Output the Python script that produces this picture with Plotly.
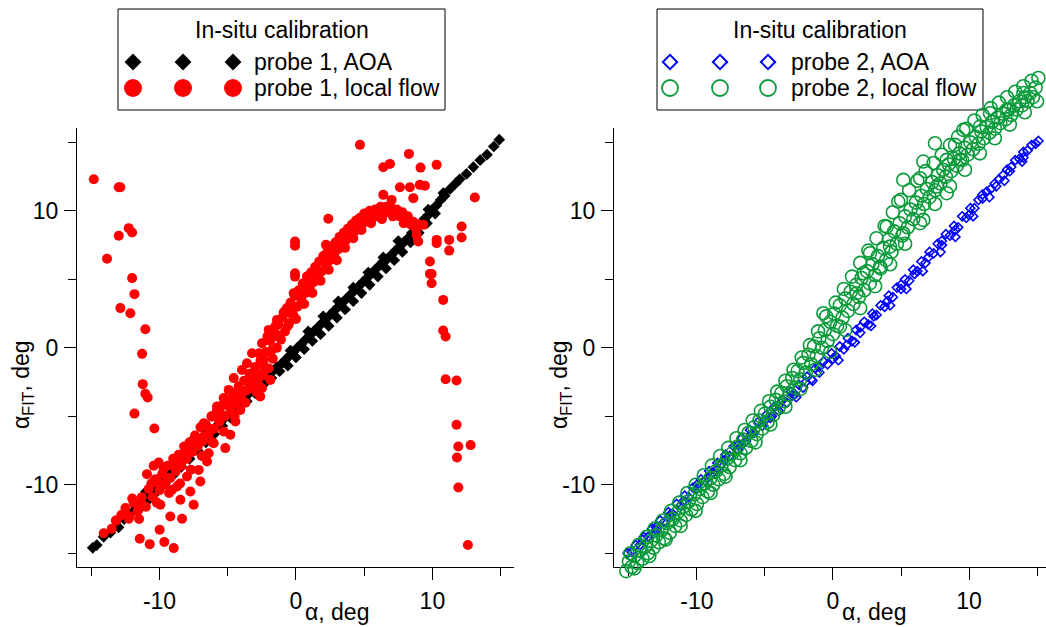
import plotly.graph_objects as go

W, H = 1046, 627
FONT = "Liberation Sans, Arial, sans-serif"
FS = 23

# ---------------- data (alpha, alpha_FIT) ----------------
probe1_aoa_x = [-14.9,-14.6,-14.1,-13.6,-13.0,-12.6,-12.0,-11.7,-11.3,-11.0,-10.7,-10.4,-10.1,-9.8,-9.5,
                -9.2,-8.9,-8.6,-8.3,-8.0,-7.7,-7.4,-7.1,-6.8,-6.5,-6.2,-5.9,-5.6,-5.3,-5.0,
                -4.7,-4.4,-4.1,-3.8,-3.5,-3.2,-2.9,-2.6,-2.3,-2.0,-1.7,-1.4,-1.1,-0.8,-0.5,
                -0.2,0.1,0.4,0.7,1.0,1.3,1.6,1.9,2.2,2.5,2.8,3.1,3.4,3.7,4.0,
                4.3,4.6,4.9,5.2,5.5,5.8,6.1,6.4,6.7,7.0,7.3,7.6,7.9,8.2,8.5,
                8.8,9.1,9.4,9.7,10.0,10.3,10.6,10.9,11.3,11.7,12.0,12.5,13.0,13.5,14.0,14.5,14.9]
probe1_aoa_y = [-14.6,-14.4,-13.8,-13.5,-13.1,-12.5,-12.0,-11.5,-11.2,-10.9,-10.6,-10.3,-10.0,-9.7,-9.4,
                -9.1,-8.8,-8.5,-8.2,-7.9,-7.6,-7.3,-7.0,-6.7,-6.4,-6.1,-5.8,-5.5,-5.2,-4.9,
                -4.6,-4.3,-4.0,-3.7,-3.4,-3.1,-2.8,-2.5,-2.2,-1.9,-1.7,-1.4,-1.2,-0.9,-0.6,
                -0.3,0.0,0.3,0.6,0.9,1.2,1.5,1.8,2.1,2.4,2.7,3.0,3.3,3.6,3.9,
                4.2,4.5,4.8,5.1,5.4,5.7,6.0,6.3,6.5,6.8,7.1,7.4,7.7,8.0,8.4,
                8.7,9.0,9.4,9.7,10.1,10.4,10.8,11.1,11.6,12.0,12.3,12.7,13.2,13.7,14.1,14.7,15.2]
probe1_aoa_extra = [
    (-12.3,-12.4),(-11.5,-11.8),(-10.9,-11.2),(-10.2,-10.5),(-9.6,-9.9),(-9.0,-9.3),(-8.4,-8.7),
    (-7.8,-8.1),(-7.2,-7.5),(-6.6,-6.9),(-6.0,-6.3),(-5.4,-5.7),(-4.8,-5.1),(-4.2,-4.5),(-3.6,-3.9),
    (-3.0,-3.3),(-2.4,-2.7),(-1.8,-2.2),(-1.2,-1.7),(-0.6,-1.3),(0.0,-0.7),(0.6,-0.1),(1.2,0.5),
    (1.8,1.0),(2.4,1.6),(3.0,2.2),(3.6,2.8),(4.2,3.4),(4.8,4.0),(5.4,4.6),(6.0,5.2),(6.6,5.8),
    (7.2,6.4),(7.8,7.0),(8.4,7.7),(9.0,8.4),(9.6,9.1),(10.2,9.8),
    (-11.0,-10.5),(-9.9,-9.4),(-8.8,-8.3),(-7.7,-7.2),(-6.6,-6.1),(-5.5,-5.0),(-4.4,-3.9),(-3.3,-2.8),
    (-0.4,-0.2),(0.9,1.2),(2.0,2.3),(3.1,3.4),(4.2,4.4),(5.3,5.5),(6.4,6.6),(7.5,7.8),(8.6,8.9),
    (9.7,10.1),(10.8,11.3),
]

probe1_flow_band = [
    (-13.5,-13.2),(-13.2,-12.6),(-12.8,-12.2),(-12.5,-11.7),(-12.2,-12.3),(-11.9,-11.3),(-11.6,-11.9),
    (-11.3,-10.9),(-11.0,-11.6),(-10.8,-10.3),(-10.5,-10.9),(-10.3,-9.6),(-10.0,-10.4),(-9.8,-9.2),
    (-9.6,-10.0),(-9.4,-8.6),(-9.2,-9.5),(-9.0,-8.1),(-8.8,-9.0),(-8.6,-7.8),(-8.4,-8.6),(-8.2,-7.2),
    (-8.0,-8.1),(-7.8,-6.9),(-7.6,-7.6),(-7.4,-6.4),(-7.2,-7.2),(-7.0,-5.8),(-6.8,-6.8),(-6.6,-5.6),
    (-6.4,-6.3),(-6.2,-5.0),(-6.0,-5.9),(-5.8,-4.6),(-5.6,-5.4),(-5.4,-4.2),(-5.2,-5.0),(-5.0,-3.8),
    (-4.8,-4.5),(-4.6,-3.3),(-4.4,-4.0),(-4.2,-2.8),(-4.0,-3.5),(-3.8,-2.4),(-3.6,-3.1),(-3.4,-1.9),
    (-3.2,-2.7),(-3.0,-1.4),(-2.8,-2.4),(-2.6,-0.9),(-2.4,-2.0),(-2.2,-0.3),(-2.0,-1.5),(-1.9,0.5),
    (-1.7,-0.8),(-1.6,1.1),(-1.4,0.0),(-1.3,1.7),(-1.1,0.6),(-1.0,2.2),(-0.8,1.2),(-0.7,2.8),
    (-0.5,1.8),(-0.4,3.3),(-0.2,2.4),(-0.1,3.8),(0.1,3.0),(0.2,4.2),(0.4,3.5),(0.5,4.7),(0.7,4.0),
    (0.8,5.2),(1.0,4.4),(1.1,5.5),(1.3,4.8),(1.4,5.9),(1.6,5.2),(1.7,6.3),(1.9,5.6),(2.0,6.7),
    (2.2,6.0),(2.3,7.0),(2.5,6.4),(2.6,7.4),(2.8,6.8),(2.9,7.7),(3.1,7.2),(3.2,8.1),(3.4,7.5),
    (3.5,8.4),(3.7,7.9),(3.8,8.7),(4.0,8.2),(4.1,9.0),(4.3,8.5),(4.4,9.3),(4.6,8.9),(4.7,9.5),
    (4.9,9.1),(5.0,9.8),(5.2,9.3),(5.4,10.0),(5.6,9.5),(5.8,10.1),(6.0,9.6),(6.2,10.3),(6.4,9.8),
    (6.6,10.3),(6.8,9.9),(7.0,10.2),(7.2,9.8),(7.4,10.1),(7.6,9.6),(7.8,9.9),(8.0,9.3),(8.2,9.6),
    (8.4,9.0),(8.6,9.2),(8.8,8.7),(9.0,9.0),
]
probe1_flow_band2 = [
    (-12.0,-11.0),(-11.5,-12.5),(-10.6,-9.9),(-10.2,-11.3),(-9.7,-8.8),(-9.3,-10.6),(-8.9,-8.5),
    (-8.5,-9.9),(-8.1,-7.6),(-7.7,-8.9),(-7.3,-6.8),(-6.9,-7.9),(-6.5,-5.8),(-6.1,-6.9),(-5.7,-5.2),
    (-5.3,-6.1),(-4.9,-4.1),(-4.5,-5.0),(-4.1,-3.2),(-3.7,-4.0),(-3.3,-2.3),(-2.9,-3.2),(-2.7,-0.4),
    (-2.3,-1.4),(-2.1,0.8),(-1.8,-0.2),(-1.5,1.6),(-1.2,0.9),(-0.9,2.6),(-0.6,1.6),(-0.3,3.0),
    (0.0,2.1),(0.3,3.9),(0.6,3.2),(0.9,4.8),(1.2,4.0),(1.5,5.6),(1.8,4.9),(2.1,6.3),(2.4,5.7),
    (2.7,7.1),(3.0,6.4),(3.3,7.8),(3.6,7.3),(3.9,8.5),(4.2,8.0),(4.5,9.1),(4.8,8.6),(5.1,9.6),
    (5.5,9.1),(5.9,9.8),(6.3,9.4),(6.7,10.0),(7.1,9.6),(7.5,9.7),(7.9,9.1),
]
probe1_flow_scatter_low = [
    (-14.09,-13.53),(-13.16,-12.60),(-12.26,-12.48),(-11.28,-11.46),(-11.45,-13.94),(-10.72,-14.33),
    (-9.99,-13.28),(-9.65,-14.18),(-8.96,-14.62),(-9.21,-12.31),(-8.35,-12.48),(-7.50,-11.46),
    (-9.94,-11.46),(-10.92,-9.22),(-10.43,-8.61),(-10.06,-8.37),(-10.06,-9.88),(-9.45,-9.51),
    (-9.08,-10.36),(-8.47,-11.09),(-7.74,-10.49),(-7.01,-9.76),(-8.72,-10.12),(-7.99,-9.39),
    (-8.47,-8.18),(-7.62,-7.57),(-7.13,-8.91),(-6.52,-8.30),(-6.40,-7.69),(-7.50,-6.72),(-6.76,-6.47),
    (-6.03,-6.96),(-5.18,-7.32),(-4.81,-6.35),(-6.76,-5.50),(-6.15,-5.01),(-5.54,-4.77),(-4.44,-5.38),
    (-5.79,-4.28),(-5.30,-3.67),(-4.93,-3.07),(-4.32,-3.67),(-4.08,-4.53),(-4.56,-2.21),(-3.96,-1.61),
    (-3.22,-0.39),(-3.59,-1.12),(-2.86,-1.85),(-2.62,-3.55),(-2.37,-0.88),(-2.49,0.34),(-2.00,1.31),
    (-1.39,2.04),(-0.66,2.90),(-0.42,2.53),(-1.63,0.83),(-1.88,-2.34),(-2.49,-2.94),
]
probe1_flow_scatter_left = [
    (-14.82,12.31),(-12.99,11.73),(-12.87,11.73),(-12.26,8.74),(-12.01,8.42),(-12.99,8.18),(-13.85,6.50),
    (-12.01,5.09),(-11.84,3.92),(-12.87,2.90),(-12.14,2.53),(-11.04,1.36),(-11.28,-0.44),(-11.23,-2.65),
    (-11.04,-3.36),(-10.87,-3.63),(-11.84,-4.80),(-10.38,-5.89),
]
probe1_flow_scatter_high = [
    (4.69,14.82),(6.40,13.19),(6.89,13.43),(8.28,14.16),(9.13,13.16),(10.31,13.36),(9.08,11.90),
    (9.45,11.83),(7.62,11.73),(8.35,11.73),(8.60,10.93),(6.40,11.17),(7.01,10.80),(13.11,10.98),
    (2.37,9.42),(-0.07,7.76),(-0.07,7.45),(2.20,7.52),(-0.07,5.45),(-0.07,5.20),(-0.17,3.99),
]
probe1_flow_scatter_right = [
    (12.14,8.86),(12.14,8.05),(11.23,7.88),(10.31,7.88),(10.31,7.64),(11.23,7.10),(8.96,7.76),
    (8.84,8.25),(9.33,8.98),(9.82,6.30),(9.82,5.40),(9.94,5.40),(9.94,4.72),(10.79,3.50),(10.79,1.26),
    (10.97,0.83),(10.97,-2.29),(11.77,-2.39),(11.77,-5.62),(11.9,-7.2),(11.8,-8.0),(11.9,-10.2),
    (12.8,-7.1),(12.6,-14.4),
]

probe2_aoa = [
    (-15.1,-15.0),(-14.8,-14.9),(-14.5,-14.4),(-14.2,-14.4),(-13.9,-13.8),(-13.6,-13.8),(-13.3,-13.2),
    (-13.0,-13.3),(-12.7,-12.6),(-12.4,-12.7),(-12.1,-12.0),(-11.8,-12.1),(-11.5,-11.4),(-11.2,-11.5),
    (-10.9,-10.8),(-10.6,-10.9),(-10.3,-10.2),(-10.0,-10.3),(-9.7,-9.6),(-9.4,-9.7),(-9.1,-9.0),
    (-8.8,-9.1),(-8.5,-8.4),(-8.2,-8.5),(-7.9,-7.8),(-7.6,-7.9),(-7.3,-7.2),(-7.0,-7.4),(-6.7,-6.6),
    (-6.4,-6.8),(-6.1,-6.0),(-5.8,-6.2),(-5.5,-5.4),(-5.2,-5.7),(-4.9,-4.9),(-4.6,-5.1),(-4.3,-4.3),
    (-4.0,-4.6),(-3.7,-3.8),(-3.4,-4.0),(-3.1,-3.2),(-2.8,-3.4),(-2.5,-2.7),(-2.2,-2.9),(-1.9,-2.1),
    (-1.6,-2.3),(-1.3,-1.5),(-1.0,-1.8),(-0.7,-1.0),(-0.4,-1.2),(-0.1,-0.4),(0.2,-0.6),(0.5,0.1),
    (0.8,-0.1),(1.1,0.7),(1.4,0.5),(1.7,1.3),(2.0,1.1),(2.3,1.9),(2.6,1.7),(2.9,2.5),(3.2,2.4),
    (3.5,3.1),(3.8,3.0),(4.1,3.8),(4.4,3.7),(4.7,4.4),(5.0,4.3),(5.3,5.0),(5.6,4.9),(5.9,5.7),
    (6.2,5.6),(6.5,6.3),(6.8,6.2),(7.1,7.0),(7.4,6.9),(7.7,7.6),(8.0,7.5),(8.3,8.3),(8.6,8.2),
    (8.9,8.9),(9.2,8.8),(9.5,9.6),(9.8,9.5),(10.1,10.2),(10.4,10.2),(10.7,10.8),(11.0,10.9),
    (11.3,11.4),(11.6,11.6),(11.9,12.0),(12.2,12.3),(12.5,12.6),(12.8,13.0),(13.1,13.2),(13.4,13.7),
    (13.7,13.8),(14.0,14.3),(14.3,14.4),(14.6,14.8),(14.9,14.9),(15.1,15.1),
]
probe2_aoa_extra = [
    (-14.0,-14.0),(-13.0,-13.1),(-12.0,-12.2),(-11.0,-11.2),(-10.0,-10.0),(-9.0,-9.3),(-8.0,-8.2),
    (-7.0,-7.1),(-6.0,-6.3),(-5.0,-5.3),(-4.0,-4.2),(-3.0,-3.5),(-2.0,-2.5),(-1.0,-1.4),(0.0,-0.8),
    (1.0,0.2),(2.0,1.5),(3.0,2.3),(4.0,3.4),(5.0,4.6),(6.0,5.4),(7.0,6.6),(8.0,7.8),(9.0,8.6),
    (10.0,9.7),(11.0,11.2),(12.0,11.8),(13.0,12.9),(14.0,13.9),
    (-8.5,-8.8),(-6.5,-6.9),(-4.5,-5.0),(-2.7,-3.6),(-1.5,-2.4),(0.4,-0.9),(1.6,0.4),(2.8,1.6),
    (4.2,3.1),(5.4,4.3),(6.6,5.6),(7.9,7.0),(9.0,8.1),(10.3,9.6),(11.5,11.0),(12.6,12.2),(13.9,13.6),
]
probe2_flow_band = [
    (-15.2,-16.3),(-15.0,-15.6),(-14.8,-16.0),(-14.6,-15.2),(-14.4,-15.7),(-14.2,-14.8),(-14.0,-15.4),
    (-13.8,-14.5),(-13.6,-15.0),(-13.4,-14.1),(-13.2,-14.6),(-13.0,-13.7),(-12.8,-14.2),(-12.6,-13.3),
    (-12.4,-13.9),(-12.2,-12.8),(-12.0,-13.5),(-11.8,-12.5),(-11.6,-13.0),(-11.4,-12.0),(-11.2,-12.6),
    (-11.0,-11.6),(-10.8,-12.2),(-10.6,-11.2),(-10.4,-11.8),(-10.2,-10.7),(-10.0,-11.4),(-9.8,-10.3),
    (-9.6,-10.9),(-9.4,-9.9),(-9.2,-10.5),(-9.0,-9.5),(-8.8,-10.0),(-8.6,-9.0),(-8.4,-9.6),(-8.2,-8.6),
    (-8.0,-9.2),(-7.8,-8.1),(-7.6,-8.7),(-7.4,-7.7),(-7.2,-8.2),(-7.0,-7.2),(-6.8,-7.7),(-6.6,-6.7),
    (-6.4,-7.3),(-6.2,-6.2),(-6.0,-6.8),(-5.8,-5.8),(-5.6,-6.3),(-5.4,-5.3),(-5.2,-5.9),(-5.0,-4.8),
    (-4.8,-5.4),(-4.6,-4.3),(-4.4,-4.9),(-4.2,-3.8),(-4.0,-4.4),(-3.8,-3.3),(-3.6,-3.9),(-3.4,-2.8),
    (-3.2,-3.4),(-3.0,-2.2),(-2.8,-2.9),(-2.6,-1.7),(-2.4,-2.3),(-2.2,-1.1),(-2.0,-1.8),(-1.8,-0.5),
    (-1.6,-1.2),(-1.4,0.1),(-1.2,-0.6),(-1.0,0.7),(-0.8,0.0),(-0.6,1.3),(-0.4,0.5),(-0.2,1.9),
    (0.0,1.0),(0.1,2.5),(0.3,1.6),(0.5,3.1),(0.7,2.2),(0.9,3.6),(1.1,2.7),(1.3,4.1),(1.5,3.2),
    (1.7,4.6),(1.9,3.7),(2.1,5.1),(2.3,4.2),(2.5,5.6),(2.7,4.7),(2.9,6.1),(3.1,5.3),(3.3,6.7),
    (3.5,5.8),(3.7,7.3),(3.9,6.4),(4.1,7.9),(4.3,7.0),(4.5,8.5),(4.7,7.6),(4.9,9.1),(5.1,8.2),
    (5.3,9.6),(5.5,8.8),(5.7,10.1),(5.9,9.4),(6.1,10.6),(6.3,10.0),(6.5,11.1),(6.7,10.5),(6.9,11.6),
    (7.1,11.0),(7.3,12.1),(7.5,11.5),(7.7,12.6),(7.9,12.0),(8.1,13.0),(8.3,12.5),(8.5,13.4),
    (8.7,12.9),(8.9,13.8),(9.1,13.3),(9.3,14.2),(9.5,13.7),(9.7,14.6),(9.9,14.1),(10.1,15.0),
    (10.3,14.5),(10.5,15.4),(10.7,14.9),(10.9,15.8),(11.1,15.3),(11.3,16.1),(11.5,15.7),(11.7,16.5),
    (11.9,16.0),(12.1,16.8),(12.3,16.4),(12.5,17.1),(12.7,16.7),(12.9,17.4),(13.1,17.0),(13.3,17.7),
    (13.5,17.4),(13.7,18.0),(13.9,17.7),(14.1,18.3),(14.3,18.0),(14.5,18.6),(14.7,18.3),(14.9,19.0),
    (15.1,19.7),
]
probe2_flow_band2 = [
    (-14.9,-15.0),(-14.3,-14.4),(-13.7,-13.8),(-13.1,-13.2),(-12.5,-12.6),(-11.9,-11.9),(-11.3,-11.3),
    (-10.7,-10.6),(-10.1,-10.0),(-9.5,-9.3),(-8.9,-8.6),(-8.3,-7.9),(-7.7,-7.3),(-7.1,-6.6),(-6.5,-6.0),
    (-5.9,-5.3),(-5.3,-4.6),(-4.7,-3.9),(-4.1,-3.2),(-3.5,-2.4),(-2.9,-1.6),(-2.3,-0.7),(-1.7,0.2),
    (-1.1,1.2),(-0.5,2.3),(0.2,3.3),(0.8,4.3),(1.4,5.2),(2.0,6.2),(2.6,7.1),(3.2,8.0),(3.8,8.9),
    (4.4,9.9),(5.0,10.8),(5.6,11.5),(6.2,12.2),(6.8,12.9),(7.4,13.5),(8.0,14.1),(8.6,14.8),(9.2,15.4),
    (9.8,16.0),(10.4,16.6),(11.0,17.0),(11.6,17.5),(12.2,17.9),(12.8,18.3),(13.4,18.7),(14.0,19.1),
    (14.6,19.5),
    (-14.6,-16.1),(-13.5,-15.2),(-12.3,-14.0),(-11.2,-13.0),(-10.1,-11.9),(-9.0,-10.6),(-7.9,-9.4),
    (-6.8,-8.2),(-5.7,-6.9),(-4.6,-5.6),(-3.5,-4.3),(-2.4,-3.0),(-1.3,-1.6),(-0.2,-0.3),(0.9,1.3),
    (2.0,2.9),(3.1,4.5),(4.2,6.1),(5.3,7.6),(6.4,9.1),(7.5,10.5),(8.6,11.8),(9.7,13.0),(10.8,14.2),
    (11.9,15.3),(13.0,16.3),(14.1,17.2),(15.0,18.0),
]
probe2_flow_scatter = [
    (7.5,14.94),(5.17,12.26),(6.40,12.38),(8.97,14.82),(9.58,15.91),(10.81,16.15),(11.54,17.13),
    (12.77,17.37),(14.0,18.6),(4.80,10.68),(3.95,8.85),(2.72,6.91),(2.23,5.45),(6.64,13.6),(8.36,13.72),
    (9.34,13.72),(3.46,5.93),(7.63,11.78),(8.36,11.29),(6.64,9.34),(5.17,8.37),(4.19,7.39),(-0.71,2.53),
    (1.74,3.99),(0.51,1.55),
]

major_ticks = [-10, 0, 10]
major_labels = ["-10", "0", "10"]
minor_ticks = [-15, -5, 5, 15]

legend_title = "In-situ calibration"
legend1_labels = ["probe 1, AOA", "probe 1, local flow"]
legend2_labels = ["probe 2, AOA", "probe 2, local flow"]
x_title = "α, deg"
y_title = "α<sub>FIT</sub>, deg"


def xs(pts):
    return [p[0] for p in pts]


def ys(pts):
    return [p[1] for p in pts]


RED = "#FF0000"
BLUE = "#0000FF"
GREEN = "#0A9A3A"

p1_aoa = list(zip(probe1_aoa_x, probe1_aoa_y)) + probe1_aoa_extra
p1_flow = (probe1_flow_band + probe1_flow_band2 + probe1_flow_scatter_low + probe1_flow_scatter_left
           + probe1_flow_scatter_high + probe1_flow_scatter_right)
p2_aoa = probe2_aoa + probe2_aoa_extra
p2_flow = probe2_flow_band + probe2_flow_band2 + probe2_flow_scatter

# axis geometry
XL = [-16.05, 15.98]
XR = [-16.1, 15.66]
YR = [-16.0, 16.05]
Y_TOP_PX, Y_BOT_PX = 128, 567
ydom = [1 - Y_BOT_PX / H, 1 - Y_TOP_PX / H]
scale = (Y_BOT_PX - Y_TOP_PX) / (YR[1] - YR[0])
YR_FULL = [YR[0] - (H - Y_BOT_PX) / scale, YR[1] + Y_TOP_PX / scale]

fig = go.Figure()
fig.add_trace(go.Scatter(x=xs(p1_aoa), y=ys(p1_aoa), mode="markers", xaxis="x", yaxis="y",
                         marker=dict(symbol="diamond", size=9, color="black", line=dict(width=0))))
fig.add_trace(go.Scatter(x=xs(p1_flow), y=ys(p1_flow), mode="markers", xaxis="x", yaxis="y",
                         marker=dict(symbol="circle", size=10, color=RED, line=dict(width=0))))
fig.add_trace(go.Scatter(x=xs(p2_aoa), y=ys(p2_aoa), mode="markers", xaxis="x2", yaxis="y2",
                         marker=dict(symbol="diamond-open", size=7, color=BLUE, line=dict(width=1.6, color=BLUE))))
# green series on an invisible twin with identical scale but taller domain (points spill above the axis)
fig.add_trace(go.Scatter(x=xs(p2_flow), y=ys(p2_flow), mode="markers", xaxis="x4", yaxis="y4",
                         marker=dict(symbol="circle-open", size=13, color=GREEN, line=dict(width=1.6, color=GREEN))))


def leg(xpix, ypix, symbol, size, color, lw=0):
    fig.add_trace(go.Scatter(x=xpix, y=ypix, mode="markers", xaxis="x3", yaxis="y3", cliponaxis=False,
                             marker=dict(symbol=symbol, size=size, color=color, line=dict(width=lw, color=color))))


leg([133, 183, 233], [62, 62, 62], "diamond", 13, "black")
leg([133, 183, 233], [88, 88, 88], "circle", 18, RED)
leg([670, 720, 768], [62, 62, 62], "diamond-open", 11, BLUE, 2)
leg([670, 720, 768], [88, 88, 88], "circle-open", 16, GREEN, 1.8)


def axis(domain, rng, anchor, standoff):
    return dict(domain=domain, range=rng, anchor=anchor, showgrid=False, zeroline=False,
                showline=True, linecolor="black", linewidth=1, mirror=False,
                tickmode="array", tickvals=major_ticks, ticktext=major_labels,
                ticks="outside", ticklen=12, tickwidth=1, tickcolor="black",
                tickfont=dict(family=FONT, size=FS, color="black"), ticklabelstandoff=standoff,
                minor=dict(tickmode="array", tickvals=minor_ticks, ticks="outside", ticklen=8,
                           tickwidth=1, tickcolor="black", showgrid=False),
                fixedrange=True)


def px_x(p):
    return p / W


def px_y(p):
    return 1 - p / H


annotations = []
shapes = []
for (cx, bx0, bx1, tx, labels) in [(282, 118, 445, 252, legend1_labels), (820, 657, 983, 789, legend2_labels)]:
    shapes.append(dict(type="rect", xref="paper", yref="paper", x0=px_x(bx0), x1=px_x(bx1),
                       y0=px_y(110), y1=px_y(9), line=dict(color="black", width=1), layer="below"))
    annotations.append(dict(text=legend_title, xref="paper", yref="paper", x=px_x(cx), y=px_y(30),
                            xanchor="center", yanchor="middle", showarrow=False, font=dict(size=FS)))
    for lab, yy in zip(labels, [62, 88]):
        annotations.append(dict(text=lab, xref="paper", yref="paper", x=px_x(tx), y=px_y(yy),
                                xanchor="left", yanchor="middle", showarrow=False, font=dict(size=FS)))

for (xt, yt) in [(337, 22), (874, 560)]:
    annotations.append(dict(text=x_title, xref="paper", yref="paper", x=px_x(xt), y=px_y(626),
                            xanchor="center", yanchor="bottom", showarrow=False, font=dict(size=FS),
                            borderpad=0))
    annotations.append(dict(text=y_title, xref="paper", yref="paper", x=px_x(yt), y=px_y(385),
                            xanchor="center", yanchor="middle", showarrow=False, textangle=-90,
                            font=dict(size=FS)))

fig.update_layout(
    width=W, height=H, margin=dict(l=0, r=0, t=0, b=0),
    paper_bgcolor="white", plot_bgcolor="rgba(0,0,0,0)", showlegend=False,
    font=dict(family=FONT, size=FS, color="black"),
    xaxis=axis([77 / W, 514 / W], XL, "y", 1),
    yaxis=axis(ydom, YR, "x", 1),
    xaxis2=axis([614 / W, 1.0], XR, "y2", 1),
    yaxis2=axis(ydom, YR, "x2", 1),
    xaxis3=dict(domain=[0, 1], range=[0, W], visible=False, anchor="y3", fixedrange=True),
    yaxis3=dict(domain=[0, 1], range=[H, 0], visible=False, anchor="x3", fixedrange=True),
    xaxis4=dict(domain=[614 / W, 1.0], range=XR, visible=False, anchor="y4", fixedrange=True),
    yaxis4=dict(domain=[0, 1], range=YR_FULL, visible=False, anchor="x4", fixedrange=True),
    shapes=shapes, annotations=annotations,
)

fig.write_html("out.html")
